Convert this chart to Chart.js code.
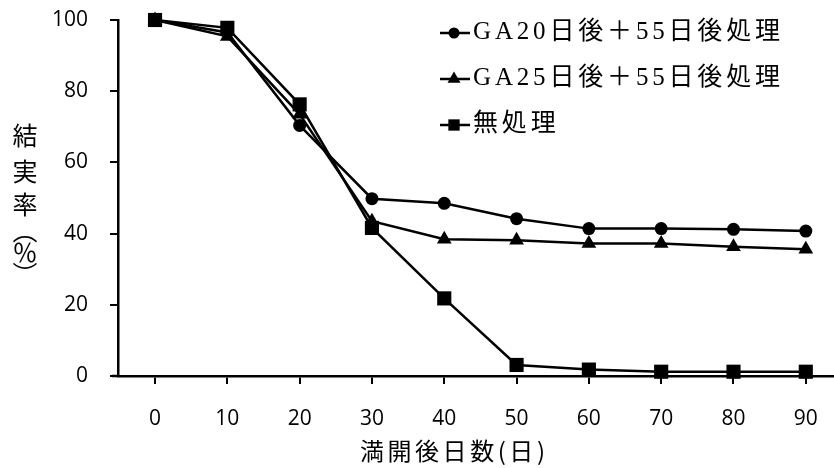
<!DOCTYPE html>
<html><head><meta charset="utf-8">
<script src="https://cdn.jsdelivr.net/npm/chart.js@4"></script>
<style>html,body{margin:0;padding:0;background:#fff}#wrap{width:834px;height:468px;position:relative}</style>
</head><body><div id="wrap"><canvas id="c"></canvas></div>
<script>
const days = [0,10,20,30,40,50,60,70,80,90];
const ga20 = [100,96.5,70.4,49.8,48.5,44.2,41.4,41.4,41.2,40.7];
const ga25 = [100,95.4,73.5,43.5,38.4,38.1,37.2,37.2,36.3,35.6];
const control = [100,97.8,76.3,41.6,21.8,3.1,1.8,1.2,1.2,1.2];
const seriesNames = ['GA20日後＋55日後処理','GA25日後＋55日後処理','無処理'];
const yTicks = [0,20,40,60,80,100];
const xTitle = '満開後日数(日)';
const yTitleChars = ['結','実','率','︵','％','︶'];

const styles = [
  {pointStyle:'circle', radius:6.5, legendRadius:5.5},
  {pointStyle:'triangle', radius:8.5, legendRadius:7.5},
  {pointStyle:'rect', radius:10, legendRadius:8}
];
const seriesValues = [ga20, ga25, control];

function drawMarker(ctx, style, r, x, y){
  ctx.save();
  ctx.fillStyle = '#000';
  ctx.beginPath();
  if (style === 'circle') {
    ctx.arc(x, y, r, 0, Math.PI*2);
  } else if (style === 'triangle') {
    const a = -Math.PI/2;
    for (let k=0;k<3;k++){
      const ang = a + k*2*Math.PI/3;
      const px = x + Math.cos(ang)*r, py = y + Math.sin(ang)*r;
      if (k===0) ctx.moveTo(px,py); else ctx.lineTo(px,py);
    }
    ctx.closePath();
  } else {
    const s = r*Math.SQRT1_2;
    ctx.rect(x-s, y-s, 2*s, 2*s);
  }
  ctx.fill();
  ctx.restore();
}

function fitText(ctx, text, font, target){
  ctx.font = font;
  ctx.letterSpacing = '0px';
  const w = ctx.measureText(text).width;
  const n = [...text].length - 1;
  return Math.max(0, (target - w) / n);
}

const titlesPlugin = {
  id:'titles',
  afterDraw(chart){
    const ctx = chart.ctx;
    const ca = chart.chartArea;
    ctx.save();
    ctx.fillStyle = '#000';
    ctx.strokeStyle = '#000';
    // x-axis line extends slightly left of the y axis
    ctx.lineWidth = 2.5;
    ctx.beginPath(); ctx.moveTo(ca.left - 6, ca.bottom); ctx.lineTo(ca.left, ca.bottom); ctx.stroke();
    // legend
    const lfont = '25px "Liberation Serif", "Noto Sans CJK JP", serif';
    const sp = fitText(ctx, seriesNames[0], lfont, 307);
    seriesNames.forEach((name, i) => {
      const y = 33 + i*46;
      ctx.lineWidth = 2.5;
      ctx.beginPath(); ctx.moveTo(440, y); ctx.lineTo(470, y); ctx.stroke();
      drawMarker(ctx, styles[i].pointStyle, styles[i].legendRadius, 454, y);
      ctx.font = lfont;
      ctx.letterSpacing = sp + 'px';
      ctx.textAlign = 'left';
      ctx.textBaseline = 'middle';
      ctx.fillText(name, 473, y - 1);
    });
    // x title
    const xfont = '24px "Noto Sans CJK JP", sans-serif';
    const xs = fitText(ctx, xTitle, xfont, 185);
    ctx.font = xfont;
    ctx.letterSpacing = xs + 'px';
    ctx.textAlign = 'left';
    ctx.textBaseline = 'middle';
    ctx.fillText(xTitle, 360, 451);
    // y title (vertical)
    ctx.letterSpacing = '0px';
    ctx.font = '25px "Noto Sans CJK JP", sans-serif';
    ctx.textAlign = 'center';
    const ys = [135, 171, 204, 230, 252, 274];
    yTitleChars.forEach((ch, i) => {
      ctx.fillText(ch, 25, ys[i]);
    });
    ctx.restore();
  }
};

const tickFont = {family:'"Open Sans", sans-serif', size:21};

new Chart(document.getElementById('c'), {
  type:'line',
  data:{
    datasets: seriesValues.map((vals, i) => ({
      label: seriesNames[i],
      data: days.map((d, k) => ({x:d, y:vals[k]})),
      borderColor:'#000',
      backgroundColor:'#000',
      borderWidth:2.5,
      pointStyle: styles[i].pointStyle,
      pointRadius: styles[i].radius,
      pointHoverRadius: styles[i].radius,
      pointBorderWidth:0,
      tension:0,
      clip:false,
      order: 2 - i
    }))
  },
  options:{
    responsive:true,
    maintainAspectRatio:false,
    animation:false,
    events:[],
    layout:{autoPadding:false, padding:{top:20,right:0,left:0,bottom:0}},
    plugins:{legend:{display:false}, tooltip:{enabled:false}},
    scales:{
      x:{
        type:'linear', min:-5.12, max:93.9,
        afterBuildTicks: s => { s.ticks = days.map(v => ({value:v})); },
        afterFit: s => { s.height = 92; s.paddingRight = 0; s.paddingLeft = 0; },
        grid:{drawOnChartArea:false, tickLength:8, color:'#000', lineWidth:2},
        border:{color:'#000', width:2.5},
        ticks:{font:tickFont, color:'#000', padding:22, maxRotation:0, autoSkip:false}
      },
      y:{
        min:0, max:100,
        afterBuildTicks: s => { s.ticks = yTicks.map(v => ({value:v})); },
        afterFit: s => { s.width = 118; s.paddingTop = 0; s.paddingBottom = 0; },
        grid:{drawOnChartArea:false, tickLength:8, color:'#000', lineWidth:2},
        border:{color:'#000', width:2.5},
        ticks:{font:tickFont, color:'#000', padding:22}
      }
    }
  },
  plugins:[titlesPlugin]
});
</script></body></html>
